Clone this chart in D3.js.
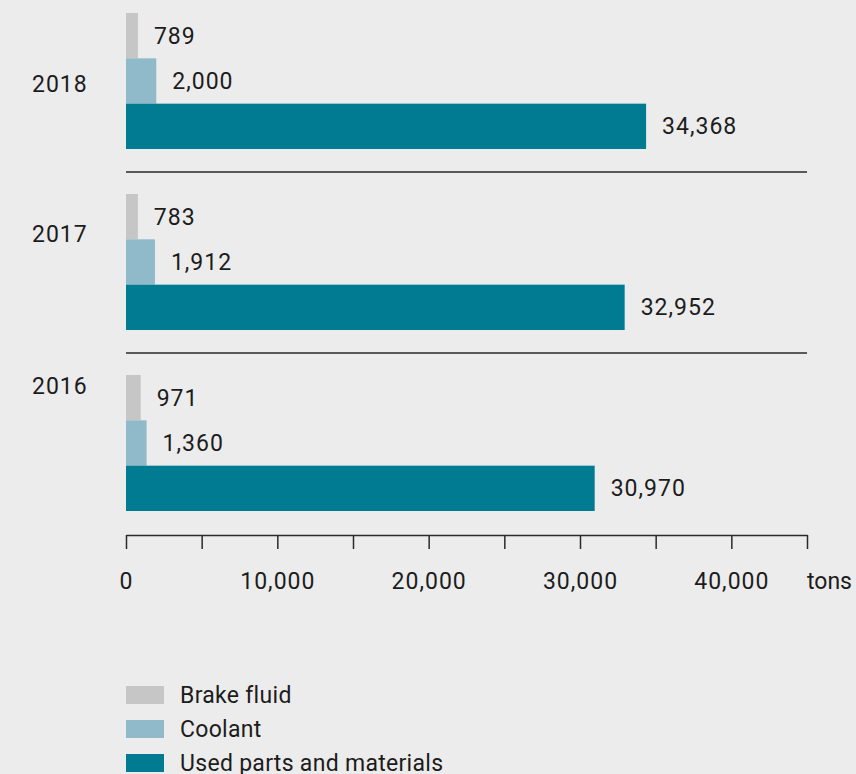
<!DOCTYPE html>
<meta charset="utf-8">
<style>
    html, body {
        margin: 0;
        padding: 0;
        background: #ececec;
    }

    text {
        font-family: Roboto, sans-serif;
        font-size: 23px;
        fill: #1c1c1c;
    }

    .num {
        letter-spacing: 1px;
    }

    .legend text {
        letter-spacing: 0.3px;
    }

    .sep {
        stroke: #2a2a2a;
        stroke-width: 1.5px;
    }

    .axis path, .axis line {
        stroke: #2a2a2a;
        stroke-width: 1.5px;
    }
</style>
<html>
<head>
    <script src="https://d3js.org/d3.v7.min.js"></script>
</head>
<body>
    <svg id="chart" width="856" height="774"></svg>

    <script>
        // data
        var years = ["2018", "2017", "2016"];
        var series = ["Brake fluid", "Coolant", "Used parts and materials"];
        var brakeFluid = [789, 783, 971];
        var coolant = [2000, 1912, 1360];
        var usedParts = [34368, 32952, 30970];
        var tickValues = [0, 5000, 10000, 15000, 20000, 25000, 30000, 35000, 40000, 45000];
        var unitLabel = "tons";

        var colors = ["#c6c6c6", "#90b9ca", "#007b92"];
        var values = [brakeFluid, coolant, usedParts];

        var svg = d3.select("#chart");

        var x = d3.scaleLinear().domain([0, 45000]).range([126, 807]);
        var yBand = d3.scaleBand().domain(years).range([-9, 534]);
        var yInner = d3.scaleBand().domain(series).range([22, 158]);

        // year labels sit at different heights in the original
        var yearDy = { "2018": 79, "2017": 48, "2016": 19 };

        var groups = svg.selectAll("g.year")
            .data(years)
            .enter().append("g")
            .attr("class", "year")
            .attr("transform", function (d) { return "translate(0," + yBand(d) + ")"; });

        groups.append("text")
            .attr("class", "num")
            .attr("x", 32)
            .attr("y", function (d) { return 22 + yearDy[d]; })
            .text(function (d) { return d; });

        series.forEach(function (s, si) {
            groups.append("rect")
                .attr("x", x(0))
                .attr("y", yInner(s))
                .attr("width", function (d, i) { return x(values[si][i]) - x(0); })
                .attr("height", yInner.bandwidth())
                .attr("fill", colors[si]);

            groups.append("text")
                .attr("class", "num")
                .attr("x", function (d, i) { return x(values[si][i]) + 16; })
                .attr("y", yInner(s) + yInner.bandwidth() / 2)
                .attr("dy", "0.35em")
                .text(function (d, i) { return d3.format(",")(values[si][i]); });
        });

        // separators between years
        svg.selectAll("line.sep")
            .data(years.slice(0, -1))
            .enter().append("line")
            .attr("class", "sep")
            .attr("x1", x(0))
            .attr("x2", x(45000))
            .attr("y1", function (d) { return yBand(d) + yBand.step(); })
            .attr("y2", function (d) { return yBand(d) + yBand.step(); });

        // axis
        var axis = d3.axisBottom(x)
            .tickValues(tickValues)
            .tickSize(14)
            .tickSizeOuter(0)
            .tickFormat(function (d) { return (d % 10000 === 0 && d < 45000) ? d3.format(",")(d) : ""; });

        var ax = svg.append("g")
            .attr("class", "axis")
            .attr("transform", "translate(0,535)")
            .call(axis);
        ax.attr("font-family", null).attr("font-size", null);
        ax.selectAll("text")
            .attr("class", "num")
            .attr("y", 54)
            .attr("dy", 0)
            .attr("fill", null);

        svg.append("text")
            .attr("x", x(45000))
            .attr("y", 589)
            .text(unitLabel);

        // legend
        var legend = svg.selectAll("g.legend")
            .data(series)
            .enter().append("g")
            .attr("class", "legend")
            .attr("transform", function (d, i) { return "translate(126," + (686 + i * 34) + ")"; });

        legend.append("rect")
            .attr("width", 38)
            .attr("height", 18)
            .attr("fill", function (d, i) { return colors[i]; });

        legend.append("text")
            .attr("x", 54)
            .attr("y", 17)
            .text(function (d) { return d; });
    </script>
</body>
</html>
